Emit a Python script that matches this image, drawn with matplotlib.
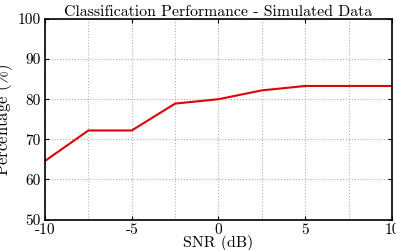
import matplotlib
matplotlib.use("Agg")
import matplotlib.pyplot as plt
from matplotlib.ticker import MultipleLocator

plt.rcParams['font.family'] = 'serif'
plt.rcParams['font.serif'] = ['cmr10', 'DejaVu Serif']
plt.rcParams['mathtext.fontset'] = 'cm'

# Data
snr = [-10, -7.5, -5, -2.5, 0, 2.5, 5, 7.5, 10]
accuracy = [64.6, 72.2, 72.2, 78.9, 80.0, 82.2, 83.3, 83.3, 83.3]
xticks = [-10, -5, 0, 5, 10]
xtick_labels = ['-10', '-5', '0', '5', '10']
yticks = [50, 60, 70, 80, 90, 100]

fig = plt.figure(figsize=(3.96, 2.5), dpi=100)
ax = fig.add_axes([0.1136, 0.122, 0.8763, 0.802])

ax.plot(snr, accuracy, color='#e00000', linewidth=1.5)

ax.set_xlim(-10, 10)
ax.set_ylim(50, 100)
ax.set_xticks(xticks)
ax.set_xticklabels(xtick_labels)
ax.set_yticks(yticks)
ax.xaxis.set_minor_locator(MultipleLocator(2.5))

ax.grid(True, which='both', axis='x', linestyle=':', color='#b0b0b0', linewidth=0.8)
ax.grid(True, which='major', axis='y', linestyle=':', color='#b0b0b0', linewidth=0.8)

ax.tick_params(which='major', direction='in', top=True, right=True,
               length=3, width=0.8, labelsize=11, pad=3)
ax.tick_params(which='minor', length=0)
for s in ax.spines.values():
    s.set_linewidth(1.2)

ax.set_title('Classification Performance - Simulated Data', fontsize=11.4, pad=2)
ax.set_xlabel('SNR (dB)', fontsize=11.5, labelpad=-2)
ax.set_ylabel(r'Percentage $(\%)$', fontsize=12, labelpad=2)

fig.savefig('out.png', dpi=100)
